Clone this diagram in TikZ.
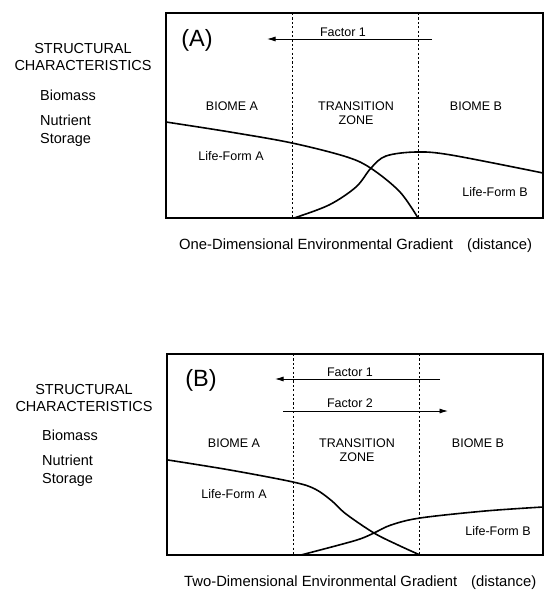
\documentclass[tikz,border=0pt]{standalone}
\usepackage{fontspec}
\setmainfont{Liberation Sans}
\usetikzlibrary{arrows.meta}
\begin{document}
\begin{tikzpicture}[x=1pt,y=-1pt,
  frame/.style={line width=1.8pt},
  divider/.style={line width=0.9pt, dash pattern=on 2.2pt off 2.2pt},
  curve/.style={line width=1.6pt, line join=round},
  factorarrow/.style={line width=0.9pt,-{Latex[length=8.5pt,width=5pt]}},
  lab/.style={font=\fontsize{12.5}{14}\selectfont, inner sep=0pt, align=center},
  side/.style={font=\fontsize{14.5}{17}\selectfont, inner sep=0pt},
  axis/.style={font=\fontsize{14.8}{17}\selectfont, inner sep=0pt, anchor=west},
  panel/.style={font=\fontsize{23.5}{26}\selectfont, inner sep=0pt}]
\useasboundingbox[fill=white] (0,0) rectangle (544,591);

% ---------------- Panel A ----------------
\coordinate (Anw) at (166,13);
\coordinate (Ase) at (543,218);
\draw[frame] (Anw) rectangle (Ase);
\coordinate (Ad1t) at (292,13); \coordinate (Ad1b) at (292,218);
\coordinate (Ad2t) at (418,13); \coordinate (Ad2b) at (418,218);
\draw[divider] (Ad1t) -- (Ad1b);
\draw[divider] (Ad2t) -- (Ad2b);

\node[panel] (Alabel) at (197,40) {(A)};
\coordinate (Af1s) at (432,39); \coordinate (Af1e) at (267,39);
\draw[factorarrow] (Af1s) -- (Af1e);
\node[lab] (Af1) at (343,32) {Factor 1};

\node[side, align=center] (Asc) at (83,57.5) {STRUCTURAL\\CHARACTERISTICS};
\node[side, anchor=west] (Abio) at (40,95) {Biomass};
\node[side, anchor=west, align=left, font=\fontsize{14.5}{18}\selectfont] (Anut) at (40,131) {Nutrient\\Storage};

\node[lab] (AbA) at (232,106) {BIOME A};
\node[lab] (Atz) at (356,113) {TRANSITION\\ZONE};
\node[lab] (AbB) at (476,106) {BIOME B};
\node[lab] (AlfA) at (231,156) {Life-Form A};
\node[lab] (AlfB) at (495,192) {Life-Form B};

\draw[curve] plot[smooth, tension=0.55] coordinates
  {(166,122) (230,132) (292,143) (347,157) (372,169) (400,192) (418,218)};
\draw[curve] plot[smooth, tension=0.55] coordinates
  {(294,218) (329,205) (356,187) (371,168) (386,156) (416,152) (451,155) (543,173)};

\node[axis] (Axl) at (179,246) {One-Dimensional Environmental Gradient\hspace{14pt}(distance)};

% ---------------- Panel B ----------------
\coordinate (Bnw) at (167,354);
\coordinate (Bse) at (543,555);
\draw[frame] (Bnw) rectangle (Bse);
\coordinate (Bd1t) at (293,354); \coordinate (Bd1b) at (293,555);
\coordinate (Bd2t) at (419,354); \coordinate (Bd2b) at (419,555);
\draw[divider] (Bd1t) -- (Bd1b);
\draw[divider] (Bd2t) -- (Bd2b);

\node[panel] (Blabel) at (201,380) {(B)};
\coordinate (Bf1s) at (440,379); \coordinate (Bf1e) at (275,379);
\draw[factorarrow] (Bf1s) -- (Bf1e);
\node[lab] (Bf1) at (350,372) {Factor 1};
\coordinate (Bf2s) at (283,411); \coordinate (Bf2e) at (448,411);
\draw[factorarrow] (Bf2s) -- (Bf2e);
\node[lab] (Bf2) at (350,403) {Factor 2};

\node[side, align=center] (Bsc) at (84,398) {STRUCTURAL\\CHARACTERISTICS};
\node[side, anchor=west] (Bbio) at (42,435) {Biomass};
\node[side, anchor=west, align=left, font=\fontsize{14.5}{18}\selectfont] (Bnut) at (42,471) {Nutrient\\Storage};

\node[lab] (BbA) at (234,443) {BIOME A};
\node[lab] (Btz) at (357,450) {TRANSITION\\ZONE};
\node[lab] (BbB) at (478,443) {BIOME B};
\node[lab] (BlfA) at (234,494) {Life-Form A};
\node[lab] (BlfB) at (498,531) {Life-Form B};

\draw[curve] plot[smooth, tension=0.55] coordinates
  {(168,460) (230,470) (293,482) (315,489) (332,501) (346,514) (374,533) (398,545) (420,555)};
\draw[curve] plot[smooth, tension=0.55] coordinates
  {(301,555) (339,545) (360,539) (374,533) (391,525) (420,518) (485,511) (543,507)};

\node[axis] (Bxl) at (184,583) {Two-Dimensional Environmental Gradient\hspace{14pt}(distance)};
\end{tikzpicture}
\end{document}
